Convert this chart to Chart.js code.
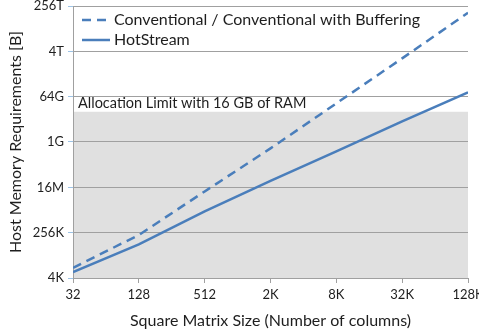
<!DOCTYPE html>
<html><head><meta charset="utf-8">
<script src="https://cdn.jsdelivr.net/npm/chart.js@4/dist/chart.umd.min.js"></script>
<style>html,body{margin:0;padding:0;background:#fff}#wrap{width:479px;height:334px}</style>
</head><body><div id="wrap"><canvas id="c" width="479" height="334"></canvas></div>
<script>
const matrixSizes = [32, 128, 512, 2048, 8192, 32768, 131072];
const xTickLabels = ['32', '128', '512', '2K', '8K', '32K', '128K'];
const conventionalBytes = [10400, 212000, 1.15e7, 5.96e8, 3.71e10, 2.31e12, 1.51e14];
const hotStreamBytes = [6980, 88700, 1.84e6, 3.02e7, 4.53e8, 7.12e9, 1.02e11];
const yTickValues = [4096, 262144, 16777216, 1073741824, 68719476736, 4398046511104, 281474976710656];
const yTickLabels = ['4K', '256K', '16M', '1G', '64G', '4T', '256T'];
const seriesNames = ['Conventional / Conventional with Buffering', 'HotStream'];
const ramLimitBytes = 17179869184;
const ramLimitLabel = 'Allocation Limit with 16 GB of RAM';

const FONT = 'Lato';
const TEXT = '#1e1e1e';
const BLUE = '#4a7ebb';
const GRID = '#a0a0a0';

const limitPlugin = {
  id: 'limit',
  beforeDraw(chart) {
    const {ctx, chartArea: a, scales: {y}} = chart;
    const top = y.getPixelForValue(ramLimitBytes);
    ctx.save();
    ctx.fillStyle = '#e0e0e0';
    ctx.fillRect(a.left, top, a.right - a.left, a.bottom - top);
    ctx.restore();
  },
  afterDatasetsDraw(chart) {
    const {ctx, chartArea: a, scales: {y}} = chart;
    const top = y.getPixelForValue(ramLimitBytes);
    ctx.save();
    ctx.font = '14.5px ' + FONT;
    ctx.fillStyle = TEXT;
    ctx.textBaseline = 'middle';
    ctx.textAlign = 'left';
    ctx.fillText(ramLimitLabel, a.left + 5, top - 8);
    const ds = chart.data.datasets;
    ctx.font = '16px ' + FONT;
    for (let i = 0; i < ds.length; i++) {
      const ly = a.top + 14 + i * 20;
      ctx.strokeStyle = ds[i].borderColor;
      ctx.lineWidth = ds[i].borderWidth;
      ctx.setLineDash(ds[i].borderDash || []);
      ctx.beginPath();
      ctx.moveTo(a.left + 9, ly);
      ctx.lineTo(a.left + 37, ly);
      ctx.stroke();
      ctx.fillStyle = TEXT;
      ctx.fillText(ds[i].label, a.left + 41, ly);
    }
    ctx.restore();
  }
};

new Chart(document.getElementById('c'), {
  type: 'line',
  data: {
    datasets: [
      {
        label: seriesNames[0],
        data: matrixSizes.map((x, i) => ({x, y: conventionalBytes[i]})),
        borderColor: BLUE, borderWidth: 2.5, borderDash: [9, 6],
        pointRadius: 0, tension: 0, fill: false
      },
      {
        label: seriesNames[1],
        data: matrixSizes.map((x, i) => ({x, y: hotStreamBytes[i]})),
        borderColor: BLUE, borderWidth: 2.5,
        pointRadius: 0, tension: 0, fill: false
      }
    ]
  },
  options: {
    responsive: false,
    devicePixelRatio: 1,
    animation: false,
    layout: {padding: {top: 6, right: 11, left: 0, bottom: 0}},
    plugins: {legend: {display: false}, tooltip: {enabled: false}},
    scales: {
      x: {
        type: 'logarithmic',
        min: matrixSizes[0], max: matrixSizes[matrixSizes.length - 1],
        afterBuildTicks: s => { s.ticks = matrixSizes.map(v => ({value: v})); },
        afterFit: s => { s.height = 56; s.paddingLeft = 0; s.paddingRight = 0; },
        ticks: {
          callback: (v, i) => xTickLabels[i],
          autoSkip: false, maxRotation: 0, minRotation: 0,
          font: {family: FONT, size: 13}, color: TEXT, padding: 4
        },
        grid: {drawOnChartArea: false, tickLength: 5, tickColor: GRID},
        border: {color: GRID, width: 1},
        title: {display: true, text: 'Square Matrix Size (Number of columns)',
                font: {family: FONT, size: 16}, color: TEXT, padding: {top: 4, bottom: 4}}
      },
      y: {
        type: 'logarithmic',
        min: yTickValues[0], max: yTickValues[yTickValues.length - 1],
        afterBuildTicks: s => { s.ticks = yTickValues.map(v => ({value: v})); },
        afterFit: s => { s.width = 73; s.paddingTop = 0; s.paddingBottom = 0; },
        ticks: {
          callback: (v, i) => yTickLabels[i],
          font: {family: FONT, size: 13}, color: TEXT, padding: 4
        },
        grid: {color: GRID, tickColor: '#9dc3e6', tickLength: 5, lineWidth: 1},
        border: {color: GRID, width: 1},
        title: {display: true, text: 'Host Memory Requirements [B]',
                font: {family: FONT, size: 16}, color: TEXT, padding: {top: 6, bottom: 4}}
      }
    }
  },
  plugins: [limitPlugin]
});
</script></body></html>
